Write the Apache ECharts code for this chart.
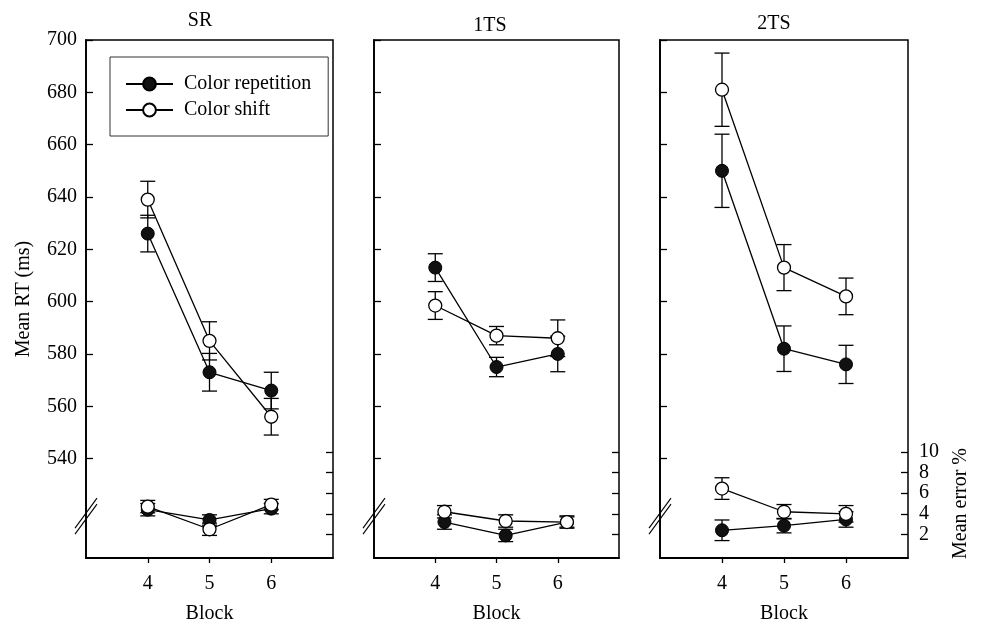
<!DOCTYPE html>
<html>
<head>
<meta charset="utf-8">
<script src="https://cdn.jsdelivr.net/npm/echarts/dist/echarts.min.js"></script>
<style>
html,body{margin:0;padding:0;background:#fff;}
#chart{width:982px;height:625px;}
</style>
</head>
<body>
<div id="chart"></div>
<script>
// ---------------- data ----------------
const blocks = [4, 5, 6];
const blocksErr1TS = [4.15, 5.15, 6.15];
const panelTitles = ['SR', '1TS', '2TS'];
const seriesNames = ['Color repetition', 'Color shift'];
const rtTicks = [540, 560, 580, 600, 620, 640, 660, 680, 700];
const errTicks = [2, 4, 6, 8, 10];
const blockTicks = [4, 5, 6];

// Mean RT (ms) and error bars
const srRepRT = [626, 573, 566];      const srRepRTse = [7, 7.2, 7];
const srShiftRT = [639, 585, 556];    const srShiftRTse = [7, 7.3, 7];
const ts1RepRT = [613, 575, 580];     const ts1RepRTse = [5.3, 3.7, 6.8];
const ts1ShiftRT = [598.5, 587, 586]; const ts1ShiftRTse = [5.3, 3.5, 7];
const ts2RepRT = [650, 582, 576];     const ts2RepRTse = [14, 8.7, 7.3];
const ts2ShiftRT = [681, 613, 602];   const ts2ShiftRTse = [14, 8.8, 7];

// Mean error % and error bars
const srRepErr = [4.4, 3.4, 4.5];     const srRepErrSe = [0.6, 0.5, 0.5];
const srShiftErr = [4.7, 2.5, 4.9];   const srShiftErrSe = [0.6, 0.6, 0.5];
const ts1RepErr = [3.2, 1.9, 3.2];    const ts1RepErrSe = [0.7, 0.6, 0.5];
const ts1ShiftErr = [4.2, 3.3, 3.2];  const ts1ShiftErrSe = [0.6, 0.6, 0.6];
const ts2RepErr = [2.4, 2.85, 3.45];  const ts2RepErrSe = [1.0, 0.7, 0.75];
const ts2ShiftErr = [6.45, 4.2, 4.0]; const ts2ShiftErrSe = [1.05, 0.7, 0.8];

// ---------------- layout ----------------
const FONT = 'Liberation Serif, Times New Roman, serif';
const panelLeft = [86, 374, 660];
const panelWidth = [247, 245, 248];
const panelData = [
  {rt: [[srRepRT, srRepRTse], [srShiftRT, srShiftRTse]], err: [[srRepErr, srRepErrSe], [srShiftErr, srShiftErrSe]], ex: blocks},
  {rt: [[ts1RepRT, ts1RepRTse], [ts1ShiftRT, ts1ShiftRTse]], err: [[ts1RepErr, ts1RepErrSe], [ts1ShiftErr, ts1ShiftErrSe]], ex: blocksErr1TS},
  {rt: [[ts2RepRT, ts2RepRTse], [ts2ShiftRT, ts2ShiftRTse]], err: [[ts2RepErr, ts2RepErrSe], [ts2ShiftErr, ts2ShiftErrSe]], ex: blocks}
];

const chart = echarts.init(document.getElementById('chart'), null, {renderer: 'canvas'});

function renderErr(params, api) {
  const x = api.value(0), lo = api.value(1), hi = api.value(2);
  const p1 = api.coord([x, hi]);
  const p2 = api.coord([x, lo]);
  const w = 7.5;
  const st = {stroke: '#000', lineWidth: 1.3};
  return {
    type: 'group',
    children: [
      {type: 'line', shape: {x1: p1[0], y1: p1[1], x2: p2[0], y2: p2[1]}, style: st},
      {type: 'line', shape: {x1: p1[0] - w, y1: p1[1], x2: p1[0] + w, y2: p1[1]}, style: st},
      {type: 'line', shape: {x1: p2[0] - w, y1: p2[1], x2: p2[0] + w, y2: p2[1]}, style: st}
    ]
  };
}

const grids = [], xAxes = [], yAxes = [], series = [];
const axisLineStyle = {color: '#000', width: 1.8};
const labelStyle = {color: '#000', fontSize: 20, fontFamily: FONT};

panelData.forEach((pd, p) => {
  // RT grid
  grids.push({left: panelLeft[p], width: panelWidth[p], top: 40, bottom: 67,
    outerBoundsMode: 'none', containLabel: false,
    show: true, borderColor: '#000', borderWidth: 1.5, backgroundColor: 'transparent'});
  // error grid
  grids.push({left: panelLeft[p], width: panelWidth[p], top: 452, bottom: 70,
    outerBoundsMode: 'none', containLabel: false, show: false});

  xAxes.push({
    gridIndex: 2 * p, type: 'value', min: 3, max: 7,
    name: 'Block', nameLocation: 'middle', nameGap: 46,
    nameTextStyle: labelStyle,
    axisLine: {show: true, lineStyle: axisLineStyle},
    axisTick: {show: true, inside: false, length: 5, customValues: blockTicks, lineStyle: {color: '#000', width: 1.3}},
    axisLabel: {show: true, customValues: blockTicks, margin: 16, ...labelStyle},
    splitLine: {show: false}
  });
  xAxes.push({
    gridIndex: 2 * p + 1, type: 'value', min: 3, max: 7, show: false,
    splitLine: {show: false}
  });

  yAxes.push({
    gridIndex: 2 * p, type: 'value', min: 502, max: 700, position: 'left',
    name: p === 0 ? 'Mean RT (ms)' : '', nameLocation: 'middle', nameGap: 52, nameRotate: 90,
    nameTextStyle: labelStyle,
    axisLine: {show: true, lineStyle: axisLineStyle},
    axisTick: {show: true, inside: true, length: 7, customValues: rtTicks, lineStyle: {color: '#000', width: 1.3}},
    axisLabel: {show: p === 0, customValues: rtTicks, margin: 9, ...labelStyle},
    splitLine: {show: false}
  });
  yAxes.push({
    gridIndex: 2 * p + 1, type: 'value', min: 0, max: 10, position: 'right',
    name: p === 2 ? 'Mean error %' : '', nameLocation: 'middle', nameGap: 43, nameRotate: 90,
    nameTextStyle: labelStyle,
    axisLine: {show: false},
    axisTick: {show: true, inside: true, length: 7, customValues: errTicks, lineStyle: {color: '#000', width: 1.3}},
    axisLabel: {show: p === 2, customValues: errTicks, margin: 11, ...labelStyle},
    splitLine: {show: false}
  });

  // error bars
  const rtBars = [], errBars = [];
  pd.rt.forEach(([v, se]) => blocks.forEach((b, i) => rtBars.push([b, v[i] - se[i], v[i] + se[i]])));
  pd.err.forEach(([v, se]) => pd.ex.forEach((b, i) => errBars.push([b, v[i] - se[i], v[i] + se[i]])));
  series.push({type: 'custom', xAxisIndex: 2 * p, yAxisIndex: 2 * p, renderItem: renderErr, data: rtBars, z: 2, silent: true, clip: false});
  series.push({type: 'custom', xAxisIndex: 2 * p + 1, yAxisIndex: 2 * p + 1, renderItem: renderErr, data: errBars, z: 2, silent: true, clip: false});

  // lines
  [0, 1].forEach(k => {
    const itemStyle = k === 0
      ? {color: '#111', borderColor: '#000', borderWidth: 1}
      : {color: '#fff', borderColor: '#000', borderWidth: 1.3};
    series.push({
      name: seriesNames[k], type: 'line', xAxisIndex: 2 * p, yAxisIndex: 2 * p,
      data: blocks.map((b, i) => [b, pd.rt[k][0][i]]),
      symbol: 'circle', symbolSize: 13, showSymbol: true,
      lineStyle: {color: '#000', width: 1.3}, itemStyle, z: 3 + k, clip: false
    });
    series.push({
      name: seriesNames[k], type: 'line', xAxisIndex: 2 * p + 1, yAxisIndex: 2 * p + 1,
      data: pd.ex.map((b, i) => [b, pd.err[k][0][i]]),
      symbol: 'circle', symbolSize: 13, showSymbol: true,
      lineStyle: {color: '#000', width: 1.3}, itemStyle, z: 3 + k, clip: false
    });
  });
});

chart.setOption({
  animation: false,
  backgroundColor: '#fff',
  grid: grids,
  xAxis: xAxes,
  yAxis: yAxes,
  series: series,
  legend: {
    data: seriesNames, left: 110, top: 57, orient: 'vertical',
    itemWidth: 47, itemHeight: 16, itemGap: 6,
    padding: [17, 17, 16, 15],
    borderColor: '#333', borderWidth: 1, backgroundColor: '#fff',
    selectedMode: false,
    textStyle: {color: '#000', fontSize: 20, fontFamily: FONT, padding: [0, 0, 0, 6]}
  }
});

// decorations: panel titles and axis break marks
const titlePos = [[200, 21], [490, 25.5], [774, 24]];
const graphics = [];
panelTitles.forEach((t, p) => {
  graphics.push({type: 'text', x: titlePos[p][0], y: titlePos[p][1], z: 10,
    style: {text: t, fill: '#000', font: '20px ' + FONT, align: 'center', verticalAlign: 'middle'}});
  const c = chart.convertToPixel({xAxisIndex: 2 * p, yAxisIndex: 2 * p}, [3, 518]);
  const cx = c[0], cy = c[1];
  [-3, 3].forEach(d => {
    graphics.push({type: 'line', z: 10,
      shape: {x1: cx - 11, y1: cy + 15 + d, x2: cx + 11, y2: cy - 15 + d},
      style: {stroke: '#000', lineWidth: 1.1}});
  });
});
chart.setOption({graphic: graphics});
</script>
</body>
</html>
